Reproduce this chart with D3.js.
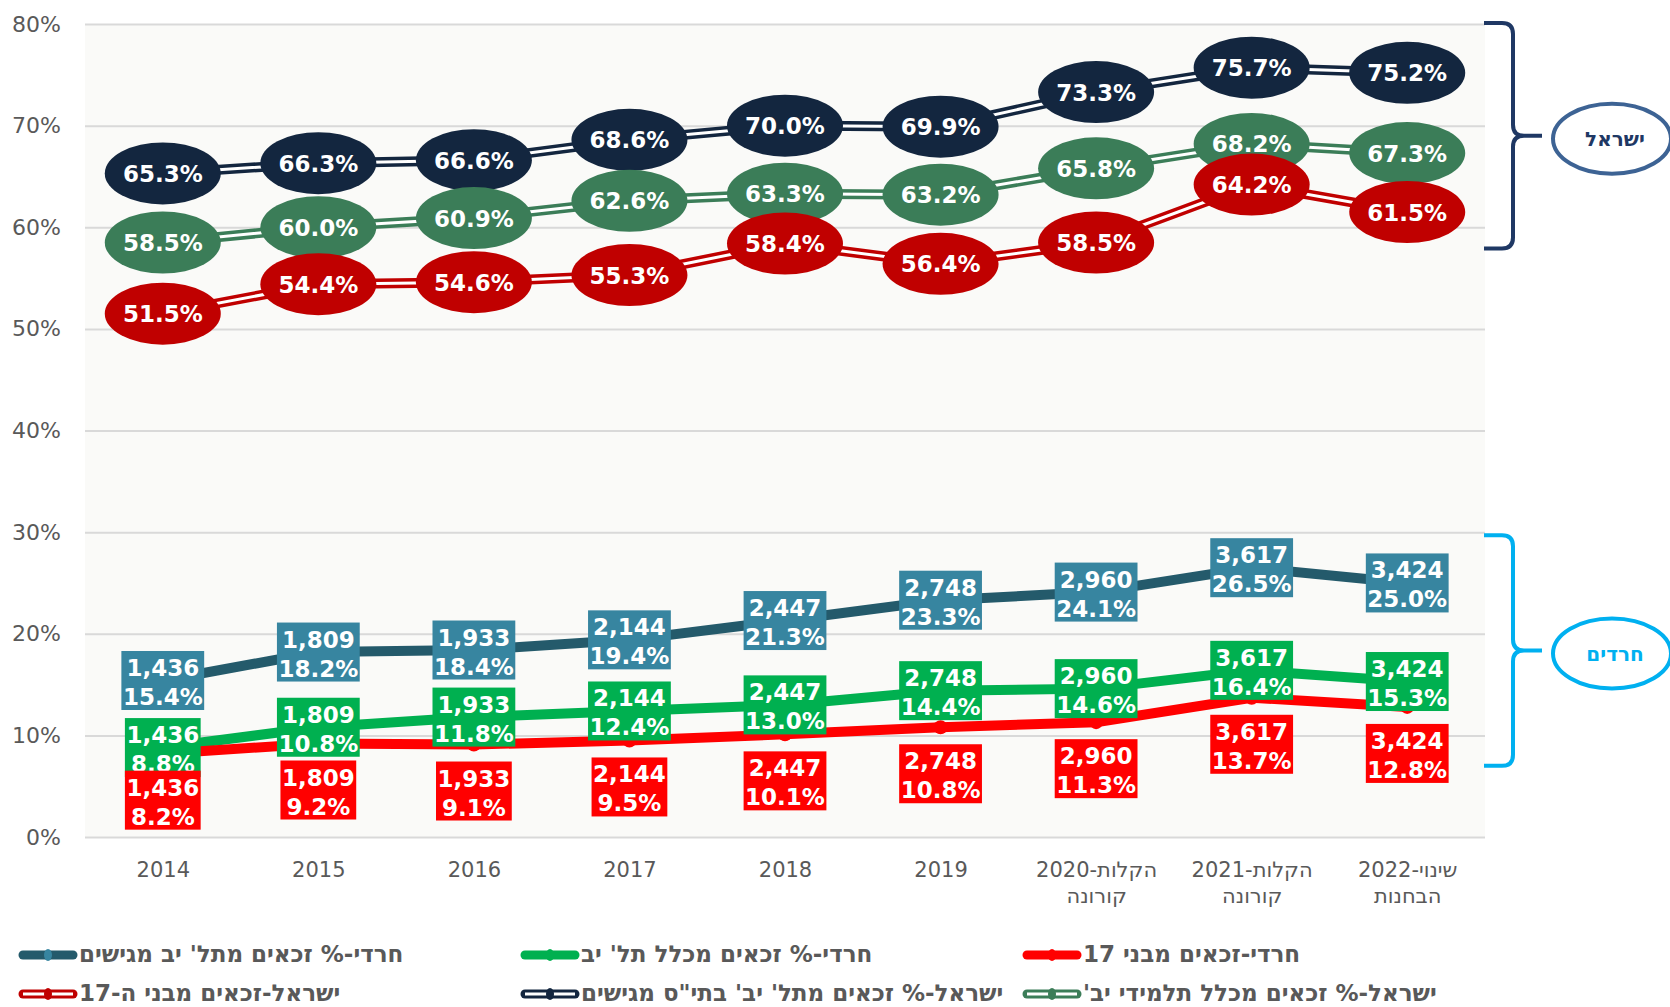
<!DOCTYPE html>
<html>
<head>
<meta charset="utf-8">
<title>זכאות לבגרות - ישראל וחרדים</title>
<script src="https://cdnjs.cloudflare.com/ajax/libs/d3/7.8.5/d3.min.js"></script>
<style>
body { margin: 0; background: #ffffff; }
text { font-family: "DejaVu Sans", sans-serif; }
.tick text { fill: #595959; }
.legend text { font-weight: bold; fill: #595959; font-size: 23px; direction: rtl; }
</style>
</head>
<body>
<div id="chart"></div>
<script>
// categories (each entry = lines of the x label)
var yearLabels = [['2014'], ['2015'], ['2016'], ['2017'], ['2018'], ['2019'],
  ['2020-הקלות', 'קורונה'], ['2021-הקלות', 'קורונה'], ['2022-שינוי', 'הבחנות']];

// ישראל
var israelSubmitters = [65.3, 66.3, 66.6, 68.6, 70.0, 69.9, 73.3, 75.7, 75.2];
var israelAllGrade12 = [58.5, 60.0, 60.9, 62.6, 63.3, 63.2, 65.8, 68.2, 67.3];
var israelAge17 = [51.5, 54.4, 54.6, 55.3, 58.4, 56.4, 58.5, 64.2, 61.5];

// חרדים
var charediCount = [1436, 1809, 1933, 2144, 2447, 2748, 2960, 3617, 3424];
var charediSubmitters = [15.4, 18.2, 18.4, 19.4, 21.3, 23.3, 24.1, 26.5, 25.0];
var charediAllGrade12 = [8.8, 10.8, 11.8, 12.4, 13.0, 14.4, 14.6, 16.4, 15.3];
var charediAge17 = [8.2, 9.2, 9.1, 9.5, 10.1, 10.8, 11.3, 13.7, 12.8];

var yTicks = [0, 10, 20, 30, 40, 50, 60, 70, 80];

var W = 1670, H = 1007;
var plot = { left: 85, right: 1485, top: 24, bottom: 837 };

var svg = d3.select('#chart').append('svg')
  .attr('width', W).attr('height', H);

var x = d3.scalePoint()
  .domain(d3.range(yearLabels.length))
  .range([plot.left, plot.right])
  .padding(0.5);

var y = d3.scaleLinear()
  .domain([0, 80])
  .range([plot.bottom, plot.top]);

// plot background
svg.append('rect')
  .attr('x', plot.left).attr('y', plot.top)
  .attr('width', plot.right - plot.left).attr('height', plot.bottom - plot.top)
  .attr('fill', '#fafaf8');

// grid
svg.append('g')
  .attr('transform', 'translate(' + plot.left + ',0)')
  .call(d3.axisLeft(y).tickValues(yTicks).tickSize(-(plot.right - plot.left)).tickFormat(''))
  .call(g => g.select('.domain').remove())
  .selectAll('line').attr('stroke', '#d9d9d9').attr('stroke-width', 2);

// y axis labels
svg.append('g')
  .attr('transform', 'translate(' + plot.left + ',0)')
  .call(d3.axisLeft(y).tickValues(yTicks).tickSize(0).tickPadding(24)
    .tickFormat(d => d + '%'))
  .call(g => g.select('.domain').remove())
  .selectAll('text').style('font-size', '22px');

// x axis labels
var xAxis = svg.append('g')
  .attr('transform', 'translate(0,' + plot.bottom + ')')
  .call(d3.axisBottom(x).tickSize(0).tickFormat(''))
  .call(g => g.select('.domain').remove());

xAxis.selectAll('.tick text')
  .style('font-size', '21px')
  .attr('y', 0).attr('dy', null)
  .each(function (d) {
    var t = d3.select(this);
    yearLabels[d].forEach(function (line, i) {
      t.append('tspan').attr('x', 0).attr('y', 40 + i * 26).text(line);
    });
  });

// ----- Israel: double lines with ellipse labels -----
var israelSeries = [
  { values: israelAge17, color: '#c00000' },
  { values: israelAllGrade12, color: '#3b7d58' },
  { values: israelSubmitters, color: '#13263f' }
];

var line = d3.line()
  .x((d, i) => x(i))
  .y(d => y(d));

israelSeries.forEach(function (s) {
  svg.append('path').datum(s.values)
    .attr('d', line).attr('fill', 'none')
    .attr('stroke', s.color).attr('stroke-width', 10);
  svg.append('path').datum(s.values)
    .attr('d', line).attr('fill', 'none')
    .attr('stroke', '#ffffff').attr('stroke-width', 3);
});

// ellipses: red on top where they touch
israelSeries.slice().reverse().forEach(function (s) {
  var g = svg.append('g').selectAll('g')
    .data(s.values).enter().append('g')
    .attr('transform', (d, i) => 'translate(' + x(i) + ',' + y(d) + ')');
  g.append('ellipse')
    .attr('rx', 58).attr('ry', 31)
    .attr('fill', s.color);
  g.append('text')
    .attr('text-anchor', 'middle')
    .attr('y', 8.5)
    .attr('fill', '#ffffff')
    .style('font-size', '23px')
    .style('font-weight', 'bold')
    .text(d => d.toFixed(1) + '%');
});

// ----- Charedi: thick lines with box labels -----
var charediSeries = [
  { values: charediSubmitters, color: '#245a6b', box: '#3785a0', below: false },
  { values: charediAllGrade12, color: '#00b050', box: '#00b050', below: false },
  { values: charediAge17, color: '#ff0000', box: '#ff0000', below: true }
];

charediSeries.forEach(function (s) {
  svg.append('path').datum(s.values)
    .attr('d', line).attr('fill', 'none')
    .attr('stroke', s.color).attr('stroke-width', 10);
  svg.append('g').selectAll('circle')
    .data(s.values).enter().append('circle')
    .attr('cx', (d, i) => x(i)).attr('cy', d => y(d))
    .attr('r', 7).attr('fill', s.color);
});

var fmt = d3.format(',');

charediSeries.forEach(function (s) {
  var g = svg.append('g').selectAll('g')
    .data(s.values).enter().append('g')
    .attr('transform', (d, i) => 'translate(' + x(i) + ',' + (s.below ? y(d) + 17 : y(d) - 29.5) + ')');
  var rects = g.append('rect').attr('fill', s.box);
  var texts = g.append('text')
    .attr('text-anchor', 'middle')
    .attr('fill', '#ffffff')
    .style('font-size', '23px')
    .style('font-weight', 'bold');
  texts.append('tspan').attr('x', 0).attr('y', 25).text((d, i) => fmt(charediCount[i]));
  texts.append('tspan').attr('x', 0).attr('y', 54).text(d => d.toFixed(1) + '%');
  texts.each(function (d, i) {
    var w = this.getBBox().width + 3;
    d3.select(rects.nodes()[i])
      .attr('x', -w / 2).attr('y', 0)
      .attr('width', w).attr('height', 59);
  });
});

// ----- group brackets on the right -----
var groups = [
  { name: 'ישראל', from: 80.1, to: 57.9, color: '#1f3864', ring: '#3d6394' },
  { name: 'חרדים', from: 29.7, to: 7.0, color: '#00b0f0', ring: '#00b0f0' }
];

groups.forEach(function (gr) {
  var y0 = y(gr.from), y1 = y(gr.to), ym = (y0 + y1) / 2;
  var bx = plot.right + 28, r = 11;
  var p = d3.path();
  p.moveTo(plot.right - 1, y0);
  p.lineTo(bx - r, y0);
  p.quadraticCurveTo(bx, y0, bx, y0 + r);
  p.lineTo(bx, ym - r);
  p.quadraticCurveTo(bx, ym, bx + r, ym);
  p.lineTo(plot.right + 57, ym);
  p.moveTo(bx + r, ym);
  p.quadraticCurveTo(bx, ym, bx, ym + r);
  p.lineTo(bx, y1 - r);
  p.quadraticCurveTo(bx, y1, bx - r, y1);
  p.lineTo(plot.right - 1, y1);
  svg.append('path').attr('d', p.toString())
    .attr('fill', 'none').attr('stroke', gr.color).attr('stroke-width', 4);

  svg.append('ellipse')
    .attr('cx', plot.right + 127).attr('cy', ym + 3)
    .attr('rx', 59).attr('ry', 35)
    .attr('fill', '#ffffff').attr('stroke', gr.ring).attr('stroke-width', 4);
  svg.append('text')
    .attr('x', plot.right + 130).attr('y', ym + 10)
    .attr('text-anchor', 'middle')
    .attr('fill', gr.color)
    .style('font-size', '20px').style('font-weight', 'bold')
    .text(gr.name);
});

// ----- legend -----
var legendItems = [
  { label: "חרדי-% זכאים מתל' יב מגישים", color: '#245a6b', dot: '#3785a0', double: false },
  { label: "חרדי-% זכאים מכלל תל' יב", color: '#00b050', dot: '#00b050', double: false },
  { label: 'חרדי-זכאים מבני 17', color: '#ff0000', dot: '#ff0000', double: false },
  { label: 'ישראל-זכאים מבני ה-17', color: '#c00000', dot: '#c00000', double: true },
  { label: 'ישראל-% זכאים מתל\' יב\' בתי"ס מגישים', color: '#13263f', dot: '#13263f', double: true },
  { label: "ישראל-% זכאים מכלל תלמידי יב'", color: '#3b7d58', dot: '#3b7d58', double: true }
];

var legend = svg.append('g').attr('class', 'legend');
var li = legend.selectAll('g').data(legendItems).enter().append('g')
  .attr('transform', (d, i) => 'translate(' + (23 + (i % 3) * 502) + ',' + (955 + Math.floor(i / 3) * 39) + ')');

li.append('line')
  .attr('x1', 0).attr('x2', 50)
  .attr('stroke', d => d.color).attr('stroke-width', 9)
  .attr('stroke-linecap', 'round');
li.filter(d => d.double).append('line')
  .attr('x1', 0).attr('x2', 50)
  .attr('stroke', '#ffffff').attr('stroke-width', 3);
li.append('ellipse')
  .attr('cx', 25).attr('rx', 4).attr('ry', 6)
  .attr('fill', d => d.dot);
li.append('text')
  .attr('x', 56).attr('y', 7)
  .attr('text-anchor', 'end')
  .text(d => d.label);
</script>
</body>
</html>
